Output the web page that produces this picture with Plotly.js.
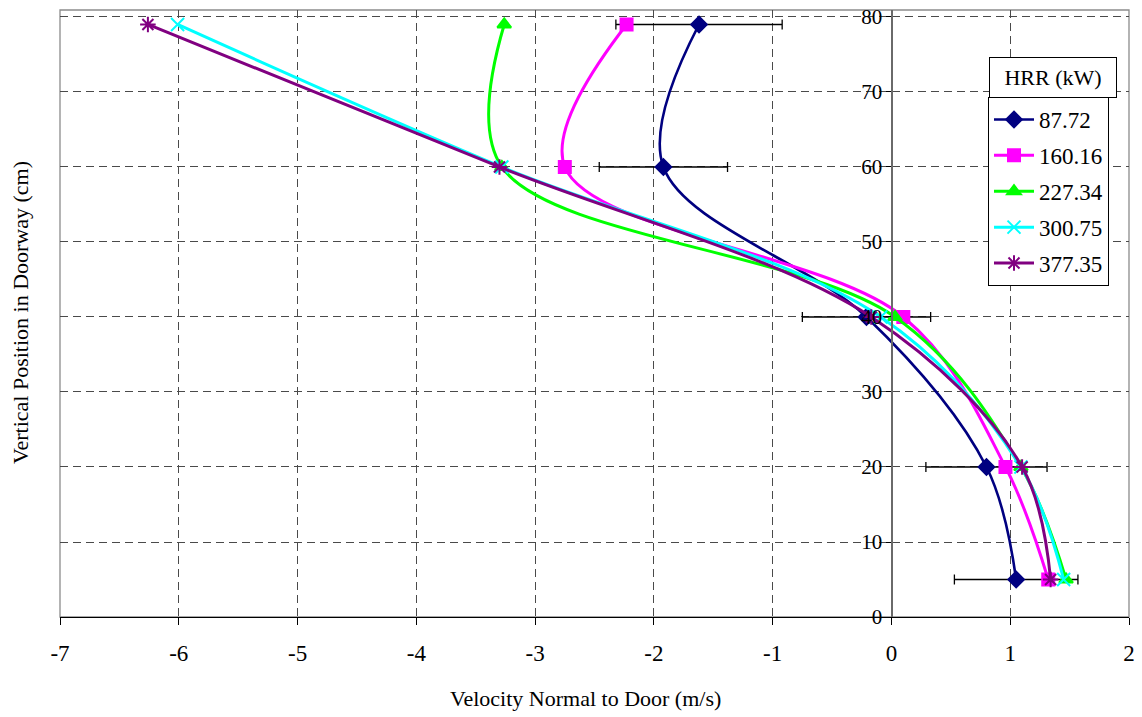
<!DOCTYPE html>
<html>
<head>
<meta charset="utf-8">
<script src="https://cdn.plot.ly/plotly-3.0.1.min.js"></script>
<style>
  html, body { margin: 0; padding: 0; background: #ffffff; }
  #chart { width: 1142px; height: 717px; }
  /* serif face for every label in the figure */
  #chart text { font-family: "Liberation Serif", "Times New Roman", "DejaVu Serif", serif !important; }
</style>
</head>
<body>
<div id="chart"></div>
<script>
// Vertical positions in the doorway (cm)
const heights = [5, 20, 40, 60, 79];

// Heat release rates (kW), one velocity profile each
const hrrLabels = ['87.72', '160.16', '227.34', '300.75', '377.35'];

// Velocity normal to the door (m/s) at each height
const vel_87_72  = [1.05, 0.80, -0.21, -1.92, -1.62];
const vel_160_16 = [1.32, 0.96,  0.10, -2.75, -2.23];
const vel_227_34 = [1.47, 1.09,  0.03, -3.28, -3.26];
const vel_300_75 = [1.45, 1.09, -0.09, -3.28, -6.01];
const vel_377_35 = [1.34, 1.10, -0.17, -3.30, -6.26];

// Uncertainty (plus/minus, m/s) on the 87.72 kW profile
const err_87_72 = [0.52, 0.51, 0.54, 0.54, 0.70];

const xTicks = [-7, -6, -5, -4, -3, -2, -1, 0, 1, 2];
const xTickText = ['-7', '-6', '-5', '-4', '-3', '-2', '-1', '0', '1', '2'];
const yTicks = [0, 10, 20, 30, 40, 50, 60, 70, 80];

const SERIF = 'Liberation Serif';

const profileStyles = [
  { color: '#000080', symbol: 'diamond',       size: 12, width: 2.6 },
  { color: '#FF00FF', symbol: 'square',        size: 12, width: 3 },
  { color: '#00FF00', symbol: 'triangle-up',   size: 12, width: 3 },
  { color: '#00FFFF', symbol: 'x-thin-open',   size: 13, width: 3 },
  { color: '#800080', symbol: 'asterisk-open', size: 13, width: 3 }
];
const profiles = [vel_87_72, vel_160_16, vel_227_34, vel_300_75, vel_377_35];

const figData = profiles.map((v, i) => {
  const s = profileStyles[i];
  const t = {
    type: 'scatter',
    mode: 'lines+markers',
    name: hrrLabels[i],
    legendgroup: 'g' + i,
    x: v,
    y: heights,
    line: { color: s.color, width: s.width, shape: 'spline', smoothing: 1 },
    marker: { color: s.color, symbol: s.symbol, size: s.size, line: { color: s.color, width: 2 } }
  };
  if (i === 0) {
    t.error_x = { type: 'data', array: err_87_72, symmetric: true, color: '#000000', thickness: 1.3, width: 5 };
  }
  return t;
});

// zero crossing of the velocity axis as a fraction of the x domain
const xMin = -7, xMax = 2;
const yAxisPos = (0 - xMin) / (xMax - xMin);

// plot area in pixels, used to place the paper-referenced boxes
const PL = 60, PR = 1129, PT = 10, PB = 617;
const toPaperX = v => (v - PL) / (PR - PL);
const toPaperY = v => (PB - v) / (PB - PT);

Plotly.newPlot('chart', figData, {
  width: 1142,
  height: 717,
  margin: { l: PL, r: 1142 - PR, t: PT, b: 717 - PB },
  showlegend: true,
  xaxis: {
    range: [xMin, xMax],
    tickvals: xTicks,
    ticktext: xTickText,
    ticks: 'outside',
    ticklen: 7,
    tickcolor: '#000000',
    ticklabelstandoff: 8,
    showline: true,
    linecolor: '#000000',
    linewidth: 1.3,
    zeroline: false,
    gridcolor: '#4a4a4a',
    griddash: '8px,5px',
    tickfont: { family: SERIF, size: 23, color: '#000000' }
  },
  yaxis: {
    range: [0, 80.93],
    tickvals: yTicks,
    anchor: 'free',
    position: yAxisPos,
    ticks: 'outside',
    ticklen: 5,
    tickcolor: '#000000',
    showline: true,
    linecolor: '#6a6a6a',
    linewidth: 1.3,
    zeroline: false,
    gridcolor: '#4a4a4a',
    griddash: '8px,5px',
    tickfont: { family: SERIF, size: 21, color: '#000000' }
  },
  yaxis2: {
    range: [0, 80.93],
    tickvals: yTicks,
    overlaying: 'y',
    anchor: 'free',
    position: yAxisPos,
    ticks: 'inside',
    ticklen: 5,
    tickcolor: '#000000',
    showticklabels: false,
    showgrid: false,
    zeroline: false,
    showline: false
  },
  legend: {
    x: toPaperX(988),
    y: toPaperY(97),
    xanchor: 'left',
    yanchor: 'top',
    bgcolor: '#ffffff',
    bordercolor: '#000000',
    borderwidth: 1,
    itemwidth: 40,
    font: { family: SERIF, size: 23, color: '#000000' },
    tracegroupgap: 3
  },
  shapes: [
    // grey frame round the plotting area
    { type: 'rect', xref: 'paper', yref: 'paper', x0: 0, x1: 1, y0: 0, y1: 1,
      line: { color: '#8c8c8c', width: 1.3 }, layer: 'below' }
  ],
  annotations: [
    {
      text: 'Velocity Normal to Door (m/s)',
      xref: 'paper', yref: 'paper',
      x: toPaperX(585), y: toPaperY(698),
      xanchor: 'center', yanchor: 'middle',
      showarrow: false,
      font: { family: SERIF, size: 22, color: '#000000' }
    },
    {
      text: 'Vertical Position in Doorway (cm)',
      xref: 'paper', yref: 'paper',
      x: toPaperX(20), y: toPaperY(313),
      xanchor: 'center', yanchor: 'middle',
      textangle: -90,
      showarrow: false,
      font: { family: SERIF, size: 22, color: '#000000' }
    },
    {
      text: 'HRR (kW)',
      xref: 'paper', yref: 'paper',
      x: toPaperX(1053), y: toPaperY(77),
      xanchor: 'center', yanchor: 'middle',
      showarrow: false,
      width: 124, height: 37,
      bgcolor: '#ffffff',
      bordercolor: '#000000',
      borderwidth: 1,
      font: { family: SERIF, size: 22, color: '#000000' }
    }
  ]
}, { staticPlot: true });
</script>
</body>
</html>
